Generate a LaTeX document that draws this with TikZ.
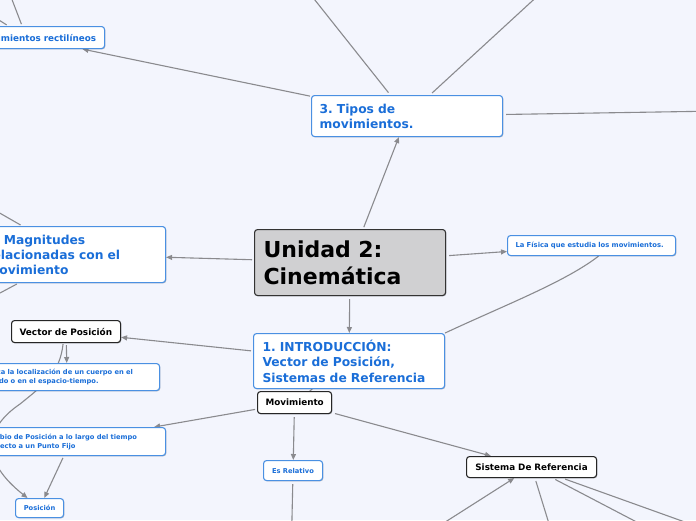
\documentclass[tikz,border=0pt]{standalone}
\usepackage{fontspec}
\setmainfont{DejaVu Sans}
\usetikzlibrary{arrows.meta,backgrounds,shadows,calc}
\definecolor{bg}{HTML}{F3F5FD}
\definecolor{lk}{HTML}{8A8A8E}
\definecolor{bb}{HTML}{4A90E2}
\definecolor{bt}{HTML}{1A6ED8}
\definecolor{cg}{HTML}{D0D0D2}
\frenchspacing
\begin{document}
\begin{tikzpicture}[x=1pt,y=-1pt,
  base/.style={rounded corners=3pt, line width=1.1pt, anchor=north west, inner xsep=8pt, inner ysep=0pt, align=left,
    drop shadow={shadow xshift=0.8pt, shadow yshift=-0.8pt, opacity=0.22, fill=black}},
  bluebox/.style={base, draw=bb, fill=white, text=bt},
  blackbox/.style={base, draw=black!85, fill=white, text=black},
  link/.style={draw=lk, line width=1.1pt},
  arr/.style={link, -{Triangle[length=6pt,width=5pt]}},
  fbig/.style={font=\bfseries\fontsize{22}{27}\selectfont},
  fmid/.style={font=\bfseries\fontsize{12.3}{15}\selectfont},
  fsm/.style={font=\bfseries\fontsize{8.8}{10}\selectfont},
  ftiny/.style={font=\bfseries\fontsize{6.7}{9}\selectfont},
]
\useasboundingbox (0,0) rectangle (696,520);
\begin{pgfonlayer}{background}
  \fill[bg] (0,0) rectangle (696,520);
\end{pgfonlayer}

% nodes
\node[base, draw=black!80, fill=cg, text=black, fbig, inner xsep=9pt, text width=173pt, minimum height=66pt] (cen) at (254,229) {Unidad 2:\\Cinemática};
\node[bluebox, fmid, text width=175pt, minimum height=41pt] (tipos) at (311,95) {3. Tipos de\\movimientos.};
\node[bluebox, fsm, text width=139pt, inner xsep=8.5pt, align=right, minimum height=22pt] (rect) at (-52,26) {Movimientos rectilíneos};
\node[bluebox, fmid, text width=171pt, minimum height=56pt] (mag) at (-22,226) {2. Magnitudes\\relacionadas con el\\movimiento};
\node[bluebox, font=\bfseries\fontsize{6.8}{8}\selectfont, inner xsep=8pt, text width=152pt, minimum height=20pt] (fis) at (507,235) {La Física que estudia los movimientos.};
\node[bluebox, font=\bfseries\fontsize{12.3}{15.5}\selectfont, inner xsep=9pt, text width=173pt, minimum height=55pt] (intro) at (253,333) {1. INTRODUCCIÓN:\\Vector de Posición,\\Sistemas de Referencia};
\node[blackbox, font=\bfseries\fontsize{8.9}{10}\selectfont, text width=93pt, minimum height=22pt] (vec) at (11,320) {Vector de Posición};
\node[bluebox, ftiny, text width=169pt, minimum height=27pt] (ind) at (-26,363) {Indica la localización de un cuerpo en el\\mundo o en el espacio-tiempo.};
\node[bluebox, ftiny, text width=174pt, minimum height=28pt] (cam) at (-25,427) {Cambio de Posición a lo largo del tiempo\\respecto a un Punto Fijo};
\node[bluebox, ftiny, text width=32pt, align=center, minimum height=19pt] (pos) at (15,498) {Posición};
\node[blackbox, fsm, text width=58pt, align=center, minimum height=22pt] (mov) at (257,391) {Movimiento};
\node[bluebox, ftiny, text width=43pt, align=center, minimum height=20pt] (rel) at (263,460) {Es Relativo};
\node[blackbox, fsm, text width=114pt, align=center, minimum height=21pt] (sis) at (466,456) {Sistema De Referencia};

% off-canvas ends
\coordinate (t1) at (299,-20);
\coordinate (t2) at (555,-20);
\coordinate (t3) at (720,111);
\coordinate (r1) at (4.5,-20);
\coordinate (r2) at (-20,8);
\coordinate (m1) at (-30,196);
\coordinate (m2) at (-30,309);
\coordinate (e1) at (291.5,540);
\coordinate (s1) at (417,540);
\coordinate (s2) at (554,540);
\coordinate (s3) at (671,540);
\coordinate (s4) at (735,540);

\begin{pgfonlayer}{background}
  \draw[arr, shorten <=2pt] (cen) -- (tipos);
  \draw[arr, shorten <=2pt] (cen) -- (mag);
  \draw[arr, shorten <=3pt] (cen) -- (fis);
  \draw[arr, shorten <=3pt] (cen) -- (intro);
  \draw[arr, shorten <=1pt] (tipos) -- (rect);
  \draw[link, shorten <=3pt] (tipos) -- (t1);
  \draw[link, shorten <=3pt] (tipos) -- (t2);
  \draw[link, shorten <=3pt] (tipos) -- (t3);
  \draw[link, shorten <=2pt] (rect) -- (r1);
  \draw[link, shorten <=2pt] (rect) -- (r2);
  \draw[link, shorten <=2pt] (mag) -- (m1);
  \draw[link, shorten <=2pt] (mag) -- (m2);
  \draw[link] ($(fis.south)+(7,0)$) .. controls (565,282) and (505,305) .. (intro.north east);
  \draw[arr, shorten <=2pt] (intro) -- (vec);
  \draw[link] (intro) -- (mov);
  \draw[arr, shorten <=2pt] (mov) -- (cam);
  \draw[arr, shorten <=3pt] (mov) -- (rel);
  \draw[arr, shorten <=3pt] (mov) -- (sis);
  \draw[link, shorten <=3pt] (rel) -- (e1);
  \draw[arr] (s1) -- (sis);
  \draw[link, shorten <=3pt] (sis) -- (s2);
  \draw[link, shorten <=3pt] (sis) -- (s3);
  \draw[link, shorten <=3pt] (sis) -- (s4);
  \draw[arr, shorten <=2pt] (vec) -- (ind);
  \draw[arr] ($(vec.south)+(-3,1)$) .. controls (60,372) and (45,384) .. (20,404)
     .. controls (-18,430) and (-18,462) .. ($(pos.north)+(-12,0)$);
  \draw[arr, shorten <=2pt] (cam) -- (pos);
\end{pgfonlayer}
\end{tikzpicture}
\end{document}
